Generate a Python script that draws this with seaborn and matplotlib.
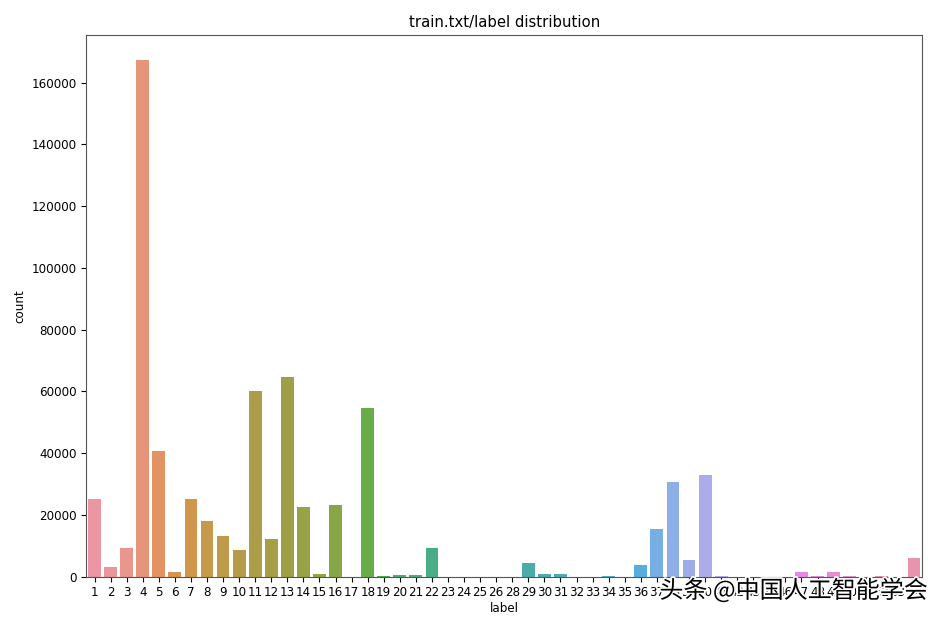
import matplotlib
matplotlib.use('Agg')
import matplotlib.pyplot as plt
import matplotlib.patheffects as pe
import seaborn as sns
import pandas as pd

labels = list(range(1, 27)) + list(range(28, 45)) + list(range(46, 55))
tick_labels = [str(x) for x in labels]
counts = [25000, 3000, 9300, 167200, 40800, 1500, 25000, 18000, 13000, 8500,
          60200, 12000, 64500, 22500, 800, 23000, 0, 54500, 300, 600,
          600, 9300, 0, 0, 0, 0, 0, 4400, 700, 700,
          0, 0, 300, 0, 3600, 15400, 30700, 5200, 32800, 300,
          0, 0, 0, 0, 1500, 300, 1500, 300, 0, 200,
          0, 6000]

df = pd.DataFrame({'label': tick_labels, 'count': counts})

fig = plt.figure(figsize=(9.45, 6.21), dpi=100)
ax = fig.add_axes([86.5 / 945, 1 - 576.5 / 621, 835.5 / 945, 541.5 / 621])

colors = sns.husl_palette(len(labels), l=.7)
sns.barplot(data=df, x='label', y='count', hue='label', order=tick_labels,
            palette=colors, legend=False, ax=ax)
ax.set_xlim(-0.5, len(labels) - 0.5)
ax.set_ylim(0, 175400)
ax.set_title('train.txt/label distribution', fontsize=10.7)
ax.tick_params(labelsize=8.6)
ax.set_xlabel('label', fontsize=8.6, labelpad=2)
ax.set_ylabel('count', fontsize=8.6)
for s in ax.spines.values():
    s.set_color('#555555')

# watermark burned into the screenshot
fig.text(793.5 / 945, 1 - 591 / 621, '头条 @中国人工智能学会', fontsize=17.3, ha='center', va='center',
         family=['Noto Sans CJK SC', 'DejaVu Sans'], color='black',
         path_effects=[pe.withStroke(linewidth=2.5, foreground='white')])

fig.savefig('out.png', dpi=100)
